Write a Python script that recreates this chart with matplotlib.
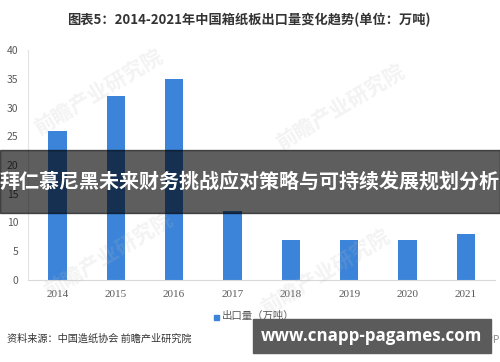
import matplotlib
matplotlib.use("Agg")
import matplotlib.pyplot as plt
from matplotlib.patches import Rectangle

plt.rcParams["font.family"] = ["Noto Sans CJK SC", "DejaVu Sans"]

years = ["2014", "2015", "2016", "2017", "2018", "2019", "2020", "2021"]
exports = [26, 32, 35, 12, 7, 7, 7, 8]
y_ticks = [0, 5, 10, 15, 20, 25, 30, 35, 40]

title = "图表5：2014-2021年中国箱纸板出口量变化趋势(单位：万吨)"
banner = "拜仁慕尼黑未来财务挑战应对策略与可持续发展规划分析"
legend_label = "出口量（万吨）"
source = "资料来源：中国造纸协会 前瞻产业研究院"
url = "www.cnapp-pagames.com"

W, H = 500, 362


def fx(x):
    return x / W


def fy(y):
    return 1 - y / H


fig = plt.figure(figsize=(5, 3.62), dpi=100)
fig.patch.set_facecolor("white")

ax = fig.add_axes([fx(28.3), fy(280), fx(495) - fx(28.3), fy(50) - fy(280)])
ax.bar(range(len(years)), exports, width=0.31, color="#3b84d9", zorder=2)
ax.set_xlim(-0.5, len(years) - 0.5)
ax.set_ylim(0, 40)
ax.set_yticks(y_ticks)
ax.set_xticks(range(len(years)))
ax.set_xticklabels(years, family="Liberation Serif", fontsize=8, color="#595959")
ax.tick_params(axis="y", length=0, pad=7, labelsize=7.5, labelcolor="#595959")
ax.tick_params(axis="x", length=0, pad=7)
for side in ["top", "right"]:
    ax.spines[side].set_visible(False)
ax.spines["left"].set_color("#e3e3e3")
ax.spines["bottom"].set_color("#d9d9d9")

# faint watermarks
for cx, cy in [(98, 92), (340, 107), (108, 255), (325, 272)]:
    fig.text(fx(cx), fy(cy), "前瞻产业研究院", rotation=31, fontsize=15,
             color="#bbbbbb", alpha=0.18, ha="center", va="center",
             fontweight="bold", zorder=3)

fig.text(fx(249), fy(20), title, fontsize=9.5, fontweight="bold",
         color="#333333", ha="center", va="center")

# legend
fig.add_artist(Rectangle((fx(213.5), fy(319.5)), fx(5), 5 / H,
                         color="#3b84d9", transform=fig.transFigure))
fig.text(fx(222), fy(316), legend_label, fontsize=7.5, color="#595959",
         ha="left", va="center")

fig.text(fx(7), fy(339), source, fontsize=7.3, color="#333333",
         ha="left", va="center")
fig.text(fx(500), fy(340), "APP", fontsize=7.5, color="#8c8c8c",
         ha="right", va="center")

# overlay banner
fig.add_artist(Rectangle((0, fy(212.7)), 1, 62.7 / H, color="black",
                         alpha=0.63, transform=fig.transFigure, zorder=5))
fig.text(fx(250), fy(181), banner, fontsize=14.4, fontweight="bold",
         color="white", ha="center", va="center", zorder=6)

# url box
fig.add_artist(Rectangle((fx(253), fy(353)), fx(238), 34 / H, color="#5b5b5b",
                         transform=fig.transFigure, zorder=5))
fig.text(fx(372), fy(336), url, fontsize=12.2, fontweight="bold",
         family="Open Sans", color="white", ha="center", va="center", zorder=6)

fig.savefig("out.png", dpi=100)
